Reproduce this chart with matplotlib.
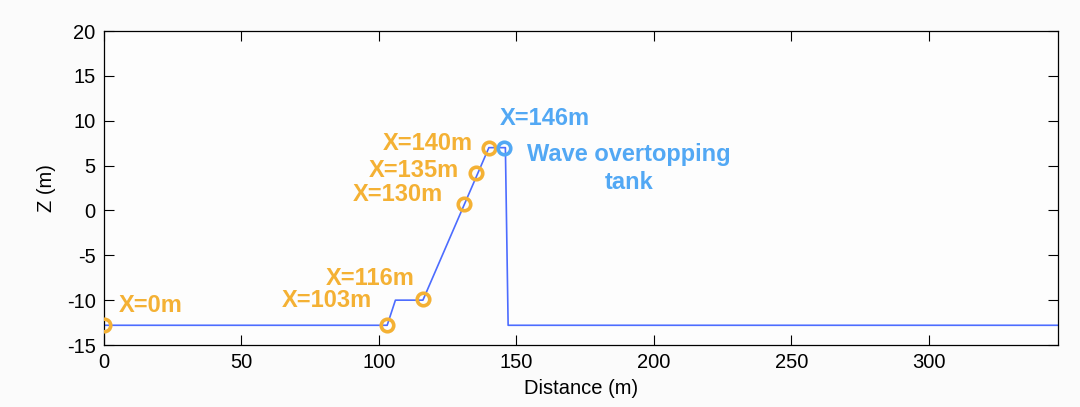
import numpy as np
import matplotlib.pyplot as plt

plt.rcParams['font.family'] = ['Liberation Sans', 'DejaVu Sans']
plt.rcParams['axes.unicode_minus'] = False

# bathymetry profile
dist = [0, 103, 106, 116, 140, 146, 147, 347]
depth = [-12.8, -12.8, -10, -10, 7, 7, -12.8, -12.8]

# gauge locations
gauge_x = [0, 103, 116, 131, 135.3, 140]
gauge_z = [-12.8, -12.8, -9.9, 0.7, 4.2, 7.0]
gauge_labels = ['X=0m', 'X=103m', 'X=116m', 'X=130m', 'X=135m', 'X=140m']
tank_x, tank_z = 145.6, 7.0

orange = '#F4B134'
blue_txt = '#52A8F4'
blue_line = '#4C6CFF'

fig = plt.figure(figsize=(10.8, 4.07), dpi=100, facecolor='#fbfbfb')
ax = fig.add_axes([0.0963, 0.1523, 0.8833, 0.7715])
ax.set_facecolor('#fdfdfd')

ax.plot(dist, depth, color=blue_line, lw=1.2, zorder=2)
ax.plot(gauge_x, gauge_z, 'o', ms=9, mfc='none', mec=orange, mew=2.6, zorder=3)
ax.plot([tank_x], [tank_z], 'o', ms=9, mfc='none', mec=blue_txt, mew=2.6, zorder=3)

fs = 17
lab_kw = dict(color=orange, fontsize=fs, fontweight='bold', va='center')
ax.text(5.5, -10.65, gauge_labels[0], ha='left', **lab_kw)
ax.text(97.5, -10.0, gauge_labels[1], ha='right', **lab_kw)
ax.text(113, -7.6, gauge_labels[2], ha='right', **lab_kw)
ax.text(123.3, 1.8, gauge_labels[3], ha='right', **lab_kw)
ax.text(129.2, 4.45, gauge_labels[4], ha='right', **lab_kw)
ax.text(134.3, 7.5, gauge_labels[5], ha='right', **lab_kw)
ax.text(143.8, 10.2, 'X=146m', ha='left', va='center', color=blue_txt,
        fontsize=fs, fontweight='bold')
ax.text(191, 4.7, 'Wave overtopping\ntank', ha='center', va='center',
        color=blue_txt, fontsize=fs, fontweight='bold', linespacing=1.25)

ax.set_xlim(0, 347)
ax.set_ylim(-15, 20)
ax.set_xticks(np.arange(0, 301, 50))
ax.set_yticks(np.arange(-15, 21, 5))
ax.tick_params(direction='in', top=True, right=True, labelsize=14.5, length=7,
               width=0.8, pad=6)
for s in ax.spines.values():
    s.set_linewidth(0.9)
ax.set_xlabel('Distance (m)', fontsize=14.5, labelpad=5)
ax.set_ylabel('Z (m)', fontsize=14.5, labelpad=8)

plt.savefig('out.png', dpi=100, facecolor=fig.get_facecolor())
